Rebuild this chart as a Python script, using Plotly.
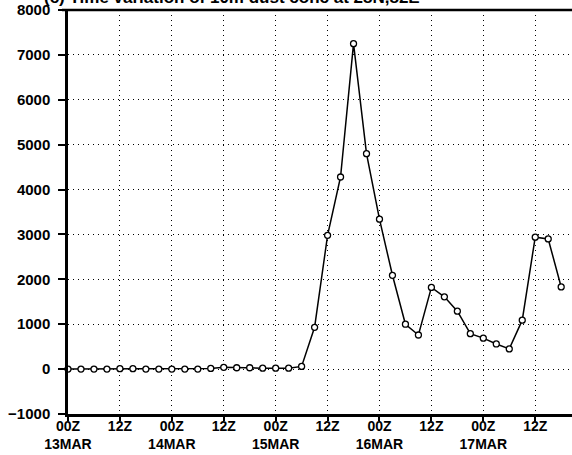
import plotly.graph_objects as go

hours = list(range(0, 115, 3))
conc = [0, 0, 0, 0, 10, 10, 0, 0, 0, 0, 0, 15, 40, 30, 30, 20, 20, 20, 60,
        930, 2980, 4280, 7250, 4800, 3340, 2090, 1000, 760, 1820, 1610, 1290,
        790, 690, 560, 450, 1090, 2940, 2900, 1830]
tick_hours = [0, 12, 24, 36, 48, 60, 72, 84, 96, 108]
tick_text = ["00Z<br>13MAR", "12Z", "00Z<br>14MAR", "12Z", "00Z<br>15MAR", "12Z",
             "00Z<br>16MAR", "12Z", "00Z<br>17MAR", "12Z"]
y_ticks = [-1000, 0, 1000, 2000, 3000, 4000, 5000, 6000, 7000, 8000]
title_text = "(c) Time variation of 10m dust conc at 28N,82E"

tfont = dict(family="Liberation Sans, Arial, sans-serif", size=15, color="black", weight="bold")
xfont = dict(family="Liberation Sans, Arial, sans-serif", size=14, color="black", weight="bold")

fig = go.Figure()
fig.add_trace(go.Scatter(
    x=hours, y=conc, mode="lines+markers",
    line=dict(color="black", width=1.5),
    marker=dict(symbol="circle", size=6, color="white", line=dict(color="black", width=1.3)),
    cliponaxis=False, showlegend=False,
))

fig.update_layout(
    width=572, height=455,
    margin=dict(l=68, r=0, t=10, b=41),
    paper_bgcolor="white", plot_bgcolor="white",
    font=tfont,
    xaxis=dict(range=[0, 116.5], tickvals=tick_hours, ticktext=tick_text,
               automargin=False,
               showline=True, linecolor="black", linewidth=2.5,
               ticks="outside", ticklen=4, tickwidth=1.5, tickcolor="black",
               ticklabelstandoff=-7,
               showgrid=True, gridcolor="black", griddash="1px,4px", gridwidth=1,
               zeroline=False, tickfont=xfont),
    yaxis=dict(range=[-1000, 8000], tickvals=y_ticks,
               automargin=False,
               showline=True, linecolor="black", linewidth=2.5,
               ticks="outside", ticklen=7, tickwidth=1.5, tickcolor="black",
               ticklabelstandoff=5,
               showgrid=True, gridcolor="black", griddash="1px,4px", gridwidth=1,
               zeroline=False, tickfont=tfont),
)
fig.add_shape(type="line", xref="paper", yref="paper", x0=-0.012, x1=1, y0=1, y1=1,
              line=dict(color="black", width=2.5))
fig.add_annotation(text=title_text, xref="paper", yref="paper", x=-0.052, y=1.0,
                   xanchor="left", yanchor="bottom", yshift=1, showarrow=False,
                   font=dict(family="Liberation Sans, Arial", size=17, color="black", weight="bold"))
fig.write_html("out.html", config={"displayModeBar": False},
               post_script="document.body.style.margin='0';document.body.style.overflow='hidden';")
